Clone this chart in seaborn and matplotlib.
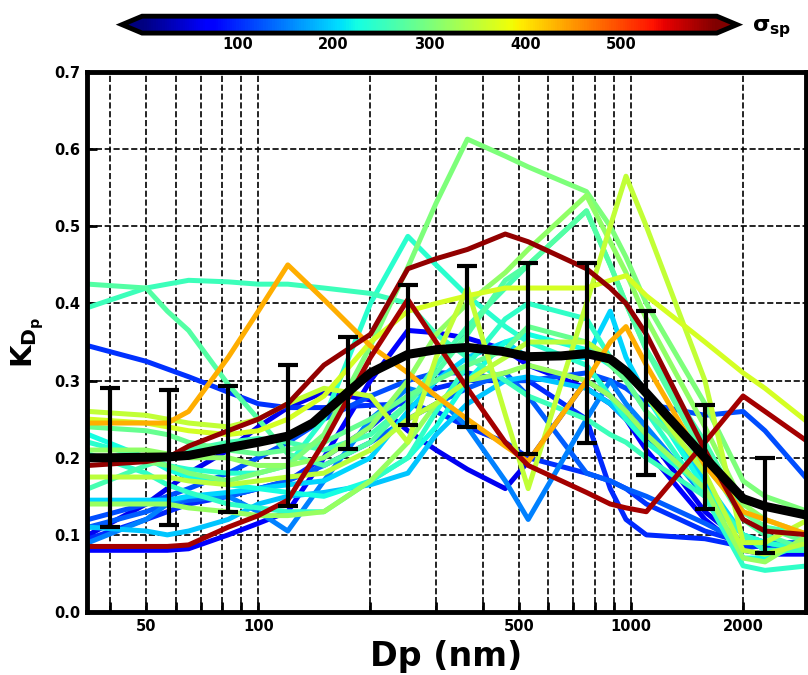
import pandas as pd
import seaborn as sns
import matplotlib
import matplotlib.pyplot as plt
from matplotlib.colors import Normalize
from matplotlib.cm import ScalarMappable
from matplotlib.ticker import FixedLocator, FixedFormatter, NullLocator

sns.set_style("white")
plt.rcParams.update({
    "font.family": ["DejaVu Sans"],
    "font.weight": "bold",
    "axes.labelweight": "bold",
    "mathtext.fontset": "dejavusans",
    "mathtext.default": "bf",
    "text.color": "black",
    "axes.labelcolor": "black",
    "xtick.color": "black",
    "ytick.color": "black",
})

# particle sizes (nm) where each single-case curve is sampled
dp_nodes = [35, 50, 57, 65, 83, 100, 120, 150, 200, 252, 300, 364, 460, 530,
            760, 880, 970, 1100, 1580, 2000, 2290, 3000]

# sigma_sp of each case (colour)
sigma_sp = [590, 580, 435, 300, 350, 365, 255, 270, 240, 315, 262, 190, 150,
            200, 105, 70, 60, 120, 100, 130, 225, 320, 345, 285, 245]

k01 = [0.19, 0.195, 0.20, 0.215, 0.235, 0.25, 0.27, 0.32, 0.36, 0.445, 0.458, 0.47, 0.49, 0.48, 0.445, 0.42, 0.40, 0.36, 0.21, 0.12, 0.105, 0.10]
k02 = [0.085, 0.085, 0.085, 0.087, 0.11, 0.125, 0.145, 0.22, 0.33, 0.405, 0.35, 0.29, 0.22, 0.19, 0.155, 0.14, 0.135, 0.13, 0.22, 0.28, 0.26, 0.22]
k03 = [0.245, 0.245, 0.245, 0.26, 0.33, 0.39, 0.45, 0.405, 0.345, 0.31, 0.28, 0.25, 0.215, 0.195, 0.30, 0.35, 0.37, 0.32, 0.19, 0.13, 0.12, 0.10]
k04 = [0.20, 0.195, 0.19, 0.18, 0.17, 0.18, 0.19, 0.23, 0.345, 0.447, 0.53, 0.613, 0.591, 0.577, 0.545, 0.50, 0.46, 0.40, 0.27, 0.17, 0.15, 0.13]
k05 = [0.26, 0.255, 0.25, 0.245, 0.24, 0.25, 0.27, 0.29, 0.28, 0.22, 0.33, 0.42, 0.256, 0.16, 0.40, 0.50, 0.565, 0.50, 0.30, 0.09, 0.09, 0.12]
k06 = [0.25, 0.245, 0.24, 0.235, 0.23, 0.235, 0.25, 0.28, 0.35, 0.39, 0.40, 0.41, 0.42, 0.42, 0.42, 0.43, 0.436, 0.41, 0.35, 0.31, 0.29, 0.245]
k07 = [0.395, 0.42, 0.425, 0.43, 0.428, 0.425, 0.425, 0.42, 0.413, 0.40, 0.36, 0.33, 0.30, 0.28, 0.25, 0.23, 0.22, 0.20, 0.15, 0.10, 0.08, 0.08]
k08 = [0.425, 0.42, 0.39, 0.365, 0.295, 0.25, 0.205, 0.19, 0.22, 0.27, 0.31, 0.36, 0.43, 0.45, 0.52, 0.45, 0.40, 0.34, 0.20, 0.12, 0.10, 0.08]
k09 = [0.22, 0.20, 0.19, 0.185, 0.18, 0.18, 0.19, 0.25, 0.40, 0.487, 0.45, 0.41, 0.37, 0.35, 0.32, 0.28, 0.25, 0.22, 0.16, 0.10, 0.09, 0.08]
k10 = [0.21, 0.21, 0.205, 0.20, 0.20, 0.19, 0.19, 0.20, 0.24, 0.30, 0.36, 0.40, 0.44, 0.47, 0.54, 0.48, 0.44, 0.38, 0.24, 0.14, 0.12, 0.10]
k11 = [0.16, 0.19, 0.20, 0.21, 0.22, 0.225, 0.22, 0.21, 0.23, 0.27, 0.32, 0.37, 0.42, 0.45, 0.52, 0.45, 0.40, 0.34, 0.22, 0.13, 0.11, 0.10]
k12 = [0.11, 0.105, 0.10, 0.105, 0.12, 0.14, 0.15, 0.155, 0.165, 0.18, 0.23, 0.27, 0.30, 0.305, 0.29, 0.27, 0.25, 0.23, 0.16, 0.10, 0.08, 0.08]
k13 = [0.09, 0.12, 0.14, 0.15, 0.15, 0.13, 0.105, 0.17, 0.25, 0.29, 0.28, 0.24, 0.17, 0.12, 0.25, 0.30, 0.27, 0.24, 0.15, 0.10, 0.09, 0.08]
k14 = [0.145, 0.145, 0.145, 0.15, 0.155, 0.16, 0.165, 0.17, 0.20, 0.26, 0.30, 0.33, 0.35, 0.33, 0.33, 0.39, 0.33, 0.28, 0.17, 0.10, 0.09, 0.08]
k15 = [0.345, 0.325, 0.315, 0.305, 0.285, 0.27, 0.265, 0.265, 0.268, 0.27, 0.26, 0.24, 0.22, 0.20, 0.18, 0.17, 0.16, 0.14, 0.105, 0.09, 0.085, 0.085]
k16 = [0.08, 0.08, 0.08, 0.082, 0.10, 0.115, 0.13, 0.20, 0.30, 0.365, 0.362, 0.355, 0.34, 0.32, 0.29, 0.27, 0.25, 0.21, 0.12, 0.08, 0.075, 0.075]
k17 = [0.10, 0.14, 0.16, 0.18, 0.21, 0.24, 0.265, 0.285, 0.275, 0.235, 0.21, 0.185, 0.16, 0.195, 0.30, 0.28, 0.26, 0.23, 0.13, 0.09, 0.085, 0.08]
k18 = [0.12, 0.14, 0.15, 0.16, 0.18, 0.20, 0.22, 0.25, 0.28, 0.30, 0.31, 0.31, 0.30, 0.30, 0.31, 0.30, 0.29, 0.27, 0.255, 0.26, 0.235, 0.17]
k19 = [0.095, 0.12, 0.13, 0.14, 0.15, 0.16, 0.17, 0.20, 0.24, 0.28, 0.29, 0.30, 0.30, 0.30, 0.25, 0.16, 0.12, 0.10, 0.095, 0.085, 0.085, 0.085]
k20 = [0.11, 0.13, 0.14, 0.145, 0.15, 0.16, 0.17, 0.19, 0.22, 0.25, 0.27, 0.29, 0.31, 0.28, 0.18, 0.17, 0.16, 0.15, 0.115, 0.09, 0.09, 0.09]
k21 = [0.23, 0.20, 0.185, 0.175, 0.165, 0.16, 0.155, 0.15, 0.17, 0.20, 0.24, 0.30, 0.35, 0.36, 0.34, 0.32, 0.31, 0.28, 0.16, 0.07, 0.07, 0.09]
k22 = [0.14, 0.14, 0.14, 0.135, 0.13, 0.125, 0.125, 0.13, 0.17, 0.22, 0.27, 0.30, 0.31, 0.32, 0.30, 0.28, 0.26, 0.23, 0.16, 0.07, 0.065, 0.10]
k23 = [0.175, 0.175, 0.175, 0.17, 0.165, 0.17, 0.175, 0.18, 0.21, 0.25, 0.27, 0.30, 0.33, 0.35, 0.35, 0.33, 0.31, 0.28, 0.18, 0.08, 0.075, 0.09]
k24 = [0.24, 0.235, 0.23, 0.22, 0.21, 0.205, 0.21, 0.22, 0.25, 0.28, 0.30, 0.32, 0.34, 0.37, 0.35, 0.32, 0.30, 0.26, 0.19, 0.13, 0.11, 0.09]
k25 = [0.205, 0.18, 0.165, 0.155, 0.14, 0.135, 0.13, 0.13, 0.17, 0.20, 0.26, 0.32, 0.38, 0.40, 0.38, 0.33, 0.30, 0.26, 0.15, 0.06, 0.054, 0.06]
kappa_lines = [k01, k02, k03, k04, k05, k06, k07, k08, k09, k10, k11, k12, k13,
               k14, k15, k16, k17, k18, k19, k20, k21, k22, k23, k24, k25]

# campaign mean
mean_dp = [35, 40, 57, 65, 83, 100, 120, 140, 174, 200, 252, 300, 364, 450,
           530, 650, 760, 880, 970, 1100, 1580, 2000, 2290, 3000]
mean_k = [0.20, 0.20, 0.201, 0.203, 0.213, 0.22, 0.228, 0.245, 0.285, 0.31,
          0.334, 0.34, 0.343, 0.338, 0.331, 0.332, 0.335, 0.328, 0.312, 0.284,
          0.20, 0.147, 0.137, 0.125]

# error bars (std)
err_dp = [40, 57.5, 83, 120, 174, 252, 364, 528, 760, 1100, 1580, 2290]
err_mid = [0.20, 0.201, 0.213, 0.228, 0.285, 0.334, 0.343, 0.331, 0.335, 0.284, 0.20, 0.137]
err_top = [0.29, 0.288, 0.293, 0.32, 0.356, 0.424, 0.448, 0.453, 0.452, 0.39, 0.268, 0.20]
err_bot = [0.11, 0.113, 0.13, 0.138, 0.211, 0.243, 0.24, 0.205, 0.219, 0.178, 0.133, 0.077]

xtick_vals = [40, 50, 60, 70, 80, 90, 100, 200, 300, 400, 500, 600, 700, 800,
              900, 1000, 2000]
xtick_text = ["", "50", "", "", "", "", "100", "", "", "", "500", "", "", "",
              "", "1000", "2000"]
ytick_vals = [0.0, 0.1, 0.2, 0.3, 0.4, 0.5, 0.6, 0.7]
cbar_ticks = [100, 200, 300, 400, 500]

rows = []
for i, (s, kl) in enumerate(zip(sigma_sp, kappa_lines)):
    for d, v in zip(dp_nodes, kl):
        rows.append({"case": i, "sigma": s, "Dp": d, "K": v})
df = pd.DataFrame(rows)

jet = matplotlib.colormaps["jet"]

fig = plt.figure(figsize=(8.08, 6.75), dpi=100)
ax = fig.add_axes([0.1077, 0.0933, 0.8898, 0.80])

sns.lineplot(data=df, x="Dp", y="K", hue="sigma", units="case", estimator=None,
             palette=jet, hue_norm=(0, 600), legend=False, sort=False,
             linewidth=3.6, ax=ax)
ax.plot(mean_dp, mean_k, color="black", linewidth=6.5, zorder=5)
lo = [m - b for m, b in zip(err_mid, err_bot)]
hi = [t - m for m, t in zip(err_mid, err_top)]
ax.errorbar(err_dp, err_mid, yerr=[lo, hi], fmt="none", ecolor="black",
            elinewidth=3, capsize=7, capthick=3, zorder=6)

ax.set_xscale("log")
ax.set_xlim(34.7, 2950)
ax.set_ylim(0, 0.7)
ax.xaxis.set_major_locator(FixedLocator(xtick_vals))
ax.xaxis.set_major_formatter(FixedFormatter(xtick_text))
ax.xaxis.set_minor_locator(NullLocator())
ax.set_yticks(ytick_vals)
ax.set_yticklabels([f"{v:.1f}" for v in ytick_vals])
ax.grid(True, which="major", color="black", linestyle="--", linewidth=1.2)
ax.set_axisbelow(True)
ax.tick_params(direction="in", length=7, width=2, labelsize=10.5, pad=5,
               bottom=True, left=True, top=False, right=False)
for sp in ax.spines.values():
    sp.set_linewidth(3.5)
    sp.set_color("black")

ax.set_xlabel("Dp (nm)", fontsize=24, labelpad=4)
ax.set_ylabel(r"$K_{D_p}$", fontsize=21, labelpad=6)

cax = fig.add_axes([0.151, 0.951, 0.761, 0.025])
sm = ScalarMappable(norm=Normalize(0, 600), cmap=jet)
cb = fig.colorbar(sm, cax=cax, orientation="horizontal", extend="both",
                  extendfrac=0.035, ticks=cbar_ticks)
cb.outline.set_linewidth(3.5)
cb.outline.set_edgecolor("black")
cb.ax.tick_params(direction="in", length=4, width=1, labelsize=10.5, pad=3)
fig.text(0.9307, 0.957, r"$\sigma_{sp}$", fontsize=16, va="center", ha="left")

fig.savefig("out.png", dpi=100)
